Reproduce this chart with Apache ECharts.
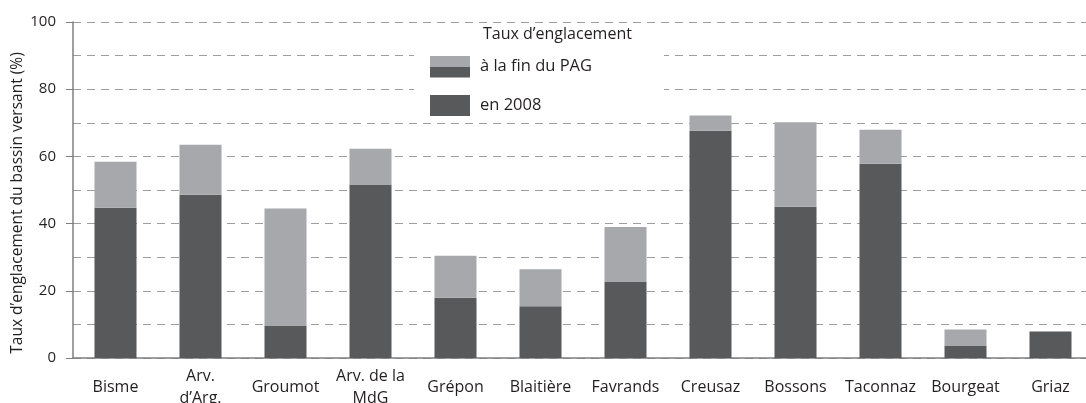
<!DOCTYPE html>
<html>
<head>
<meta charset="utf-8">
<script src="https://cdn.jsdelivr.net/npm/echarts@6/dist/echarts.min.js"></script>
<style>
html, body { margin: 0; padding: 0; background: #fff; }
#chart { width: 1086px; height: 403px; }
</style>
</head>
<body>
<div id="chart"></div>
<script>
// glaciers (bassins versants)
const categories = ['Bisme', 'Arv.\nd’Arg.', 'Groumot', 'Arv. de la\nMdG', 'Grépon', 'Blaitière',
    'Favrands', 'Creusaz', 'Bossons', 'Taconnaz', 'Bourgeat', 'Griaz']
// taux d'englacement (%)
const en2008 = [44.7, 48.6, 9.7, 51.6, 17.9, 15.4, 22.8, 67.6, 45.0, 57.8, 3.7, 7.9]
const finPAG = [58.4, 63.5, 44.5, 62.3, 30.4, 26.4, 39.0, 72.2, 70.2, 67.9, 8.5, 7.9]
const yTicks = [0, 20, 40, 60, 80, 100]

const DARK = '#58595b'
const LIGHT = '#a6a8ab'
const AXIS = '#7f7f7f'
const TEXT = '#231f20'
const FONT = 'Open Sans'

// light part = what is added on top of 2008 value
const increment = finPAG.map((v, i) => +(v - en2008[i]).toFixed(1))

const chart = echarts.init(document.getElementById('chart'))
chart.setOption({
    animation: false,
    textStyle: { fontFamily: FONT, color: TEXT },
    grid: { left: 73, right: -7, top: 22, bottom: 45, outerBoundsMode: 'none', containLabel: false },
    legend: {
        data: ['à la fin du PAG', 'en 2008'],
        orient: 'vertical',
        left: 430,
        top: 56,
        padding: 0,
        itemWidth: 40,
        itemHeight: 21,
        itemGap: 18,
        icon: 'rect',
        z: 10,
        textStyle: { fontSize: 16.5, color: TEXT, fontFamily: FONT, padding: [0, 0, 0, 5] }
    },
    graphic: [
        // white box behind the legend
        { type: 'rect', left: 414, top: 25, z: 1, shape: { width: 250, height: 93 }, style: { fill: '#fff' } },
        { type: 'text', left: 483, top: 26, z: 11,
          style: { text: 'Taux d’englacement', fontSize: 16, fontFamily: FONT, fill: TEXT } },
        // lower half of the first legend swatch
        { type: 'rect', left: 430, top: 67, z: 11, shape: { width: 40, height: 10.5 }, style: { fill: DARK } }
    ],
    xAxis: {
        type: 'category',
        data: categories,
        axisLine: { lineStyle: { color: AXIS, width: 1.5 } },
        axisTick: { length: 5, lineStyle: { color: AXIS } },
        axisLabel: {
            interval: 0,
            fontSize: 16,
            color: TEXT,
            fontFamily: FONT,
            verticalAlign: 'middle',
            lineHeight: 22,
            margin: 29
        }
    },
    yAxis: {
        type: 'value',
        min: 0,
        max: 100,
        interval: 20,
        name: 'Taux d’englacement du bassin versant (%)',
        nameLocation: 'middle',
        nameGap: 47,
        nameMoveOverlap: false,
        nameTextStyle: { fontSize: 15.5, color: TEXT, fontFamily: FONT, padding: [0, 26, 0, 0] },
        axisLine: { show: true, lineStyle: { color: AXIS, width: 1.5 } },
        axisTick: { show: true, length: 7, lineStyle: { color: AXIS } },
        axisLabel: {
            fontSize: 15,
            color: TEXT,
            fontFamily: FONT,
            margin: 17,
            formatter: v => (yTicks.indexOf(v) >= 0 ? String(v) : '')
        },
        splitLine: { lineStyle: { color: '#9d9d9d', type: [8, 6], width: 1 } },
        minorTick: { show: false, splitNumber: 2 },
        minorSplitLine: { show: true, lineStyle: { color: '#9d9d9d', type: [8, 6], width: 1 } }
    },
    series: [
        {
            name: 'en 2008',
            type: 'bar',
            stack: 'total',
            barWidth: 42,
            itemStyle: { color: DARK },
            data: en2008
        },
        {
            name: 'à la fin du PAG',
            type: 'bar',
            stack: 'total',
            barWidth: 42,
            itemStyle: { color: LIGHT },
            data: increment
        }
    ]
})
</script>
</body>
</html>
